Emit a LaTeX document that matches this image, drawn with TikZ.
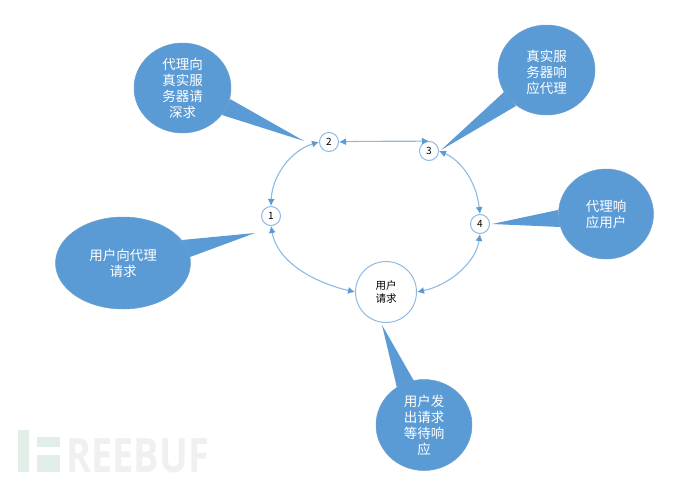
\documentclass[tikz,border=0pt]{standalone}
\usepackage{fontspec}
\setmainfont{Liberation Sans}
\newfontfamily\cjkfont{Noto Sans CJK SC}
\newfontfamily\wmfont[FakeStretch=0.80]{Open Sans Bold}
\usetikzlibrary{arrows.meta,shapes.geometric}
\definecolor{bubbleblue}{HTML}{5B9BD5}
\definecolor{bubbleedge}{HTML}{6F9FCB}
\definecolor{ringblue}{HTML}{8DBAE3}
\definecolor{wmgray}{HTML}{F0F0F0}
\definecolor{wmgreen}{HTML}{E2EFE9}
\tikzset{
  bubble/.style={ellipse,fill=bubbleblue,draw=bubbleedge,line width=0.5pt,inner sep=0pt,align=center,
    text=white,font=\cjkfont\fontsize{13.5}{16}\selectfont},
  spike/.style={fill=bubbleblue,draw=none},
  numdot/.style={circle,draw=ringblue,line width=1pt,fill=white,minimum size=19pt,inner sep=0pt,
    font=\cjkfont\fontsize{10}{12}\selectfont},
  usernode/.style={circle,draw=ringblue,line width=1pt,fill=white,minimum size=61pt,inner sep=0pt,align=center,
    font=\cjkfont\fontsize{10.5}{12.5}\selectfont},
  link/.style={draw=ringblue,line width=1.1pt,
    {Latex[length=7pt,width=7pt,color=bubbleblue]}-{Latex[length=7pt,width=7pt,color=bubbleblue]}},
  wmbar/.style={fill=wmgreen,draw=none}
}
\begin{document}
\begin{tikzpicture}[x=1pt,y=-1pt]
\useasboundingbox (0,0) rectangle (690,479);
% watermark
\fill[wmbar] (18,430) rectangle (29,472);
\fill[wmbar] (37,437) rectangle (60,447);
\fill[wmbar] (37,455) rectangle (60,472);
\node[anchor=base west,inner sep=0pt,text=wmgray,font=\wmfont\fontsize{47.5}{50}\selectfont] (wm) at (66,472) {REEBUF};
% spikes
\coordinate (tipA) at (304,141);
\coordinate (tipB) at (441,150);
\coordinate (tipC) at (492,224);
\coordinate (tipD) at (255,233);
\coordinate (tipE) at (382,325);
\fill[spike] (230,99) -- (tipA) -- (222,115) -- cycle;
\fill[spike] (504,92) -- (tipB) -- (516,106) -- cycle;
\fill[spike] (558,210) -- (tipC) -- (560,227) -- cycle;
\fill[spike] (182,240) -- (tipD) -- (190,257) -- cycle;
\fill[spike] (397,388) -- (tipE) -- (414,381) -- cycle;
% bubbles
\node[bubble,minimum width=97pt,minimum height=90pt] (ba) at (182.5,88) {代理向\\真实服\\务器请\\深求};
\node[bubble,minimum width=97pt,minimum height=90pt] (bb) at (546.5,70) {\rule{0pt}{15.5pt}真实服\\务器响\\应代理};
\node[bubble,minimum width=95pt,minimum height=90pt] (bc) at (606,214) {代理响\\应用户};
\node[bubble,minimum width=135pt,minimum height=92pt] (bd) at (123,263) {用户向代理\\请求};
\node[bubble,minimum width=96pt,minimum height=91pt] (be) at (424,425) {用户发\\出请求\\等待响\\应};
% ring nodes
\node[numdot] (n1) at (271,216) {1};
\node[numdot] (n2) at (329,142) {2};
\node[numdot] (n3) at (429,151) {3};
\node[numdot] (n4) at (480,224) {4};
\node[usernode] (u) at (386,292) {用户\\请求};
% connectors
\draw[link] (n1.north) .. controls (272,175) and (292,150) .. (n2.west);
\draw[link] (n2.east) .. controls (365,141) and (400,141.5) .. (n3.north);
\draw[link] (n3.east) .. controls (460,160) and (476,180) .. (n4.north);
\draw[link] (n4.south) .. controls (476,262) and (450,285) .. (u.east);
\draw[link] (u.west) .. controls (320,284) and (278,265) .. (n1.south);
\end{tikzpicture}
\end{document}
